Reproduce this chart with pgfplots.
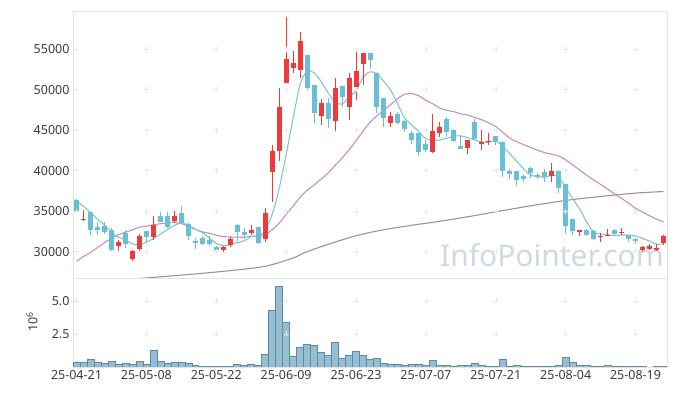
\documentclass[border=0pt]{standalone}
\usepackage{fontspec}
\setmainfont{Noto Sans}
\usepackage{pgfplots}
\pgfplotsset{compat=1.18}
\usepackage{pgfplotstable}

\definecolor{upc}{RGB}{238,58,58}
\definecolor{dnc}{RGB}{106,190,214}
\definecolor{ma5}{RGB}{128,201,190}
\definecolor{ma20}{RGB}{200,140,195}
\definecolor{ma60}{RGB}{150,150,150}
\definecolor{volf}{RGB}{150,190,208}
\definecolor{vold}{RGB}{90,140,170}
\definecolor{wm}{RGB}{203,218,228}
\definecolor{frame}{RGB}{228,228,228}
\definecolor{lab}{RGB}{60,60,60}

% up candles: x open high low close
\pgfplotstableread{
x o h l c
1 33850 35080 33820 34060
6 30650 31480 30040 31150
8 29140 30250 28800 30040
9 30370 32220 30120 31890
11 31810 34350 31400 33320
14 33820 34960 33530 34350
21 30160 30740 29900 30530
22 30780 31810 30590 31560
25 32300 33320 32090 32710
27 31560 35380 31150 34760
28 39890 43170 36190 42470
29 42470 50150 41240 47890
30 50840 58970 50770 53760
31 52690 54740 52070 53310
32 52380 57080 51380 55980
35 46740 48800 45630 48300
37 46160 51380 44930 50150
39 47890 52000 46250 51380
40 50280 54580 48710 52280
41 53140 54530 50560 54530
45 45840 47230 45430 46740
51 42350 46950 42150 44890
52 44700 45970 44120 45350
56 42760 43790 42060 43790
58 43260 45020 42560 43580
59 43500 44610 43170 43670
68 39280 40990 38650 40010
72 32380 32710 31970 32710
75 31810 32300 31150 31970
76 31890 32830 31890 32090
78 32300 32870 32050 32380
81 30160 30650 29900 30580
82 30370 30980 30200 30650
83 30250 30900 30100 30410
84 31070 32090 30860 31890
}\upT

% down candles: x open high low close
\pgfplotstableread{
x o h l c
0 36400 36500 34760 34840
2 34840 34900 32090 32620
3 33000 33600 32090 32620
4 33110 33600 32220 32380
5 32620 32950 30040 30250
7 32300 32620 30460 30980
10 32500 32600 31150 31810
12 34430 34890 33650 33650
13 34430 34890 32900 33000
15 34760 35660 33530 33530
16 33410 33500 31480 31890
17 31320 31690 30330 31070
18 31640 31970 30820 30980
19 31480 31890 30660 30980
20 30530 30740 29840 30160
23 33320 33400 31270 32380
24 32380 32910 31560 32060
26 33000 33050 30900 31070
33 54250 54300 50000 50220
34 50560 50600 45840 47150
36 48300 48920 45230 46410
38 50430 50500 47890 49110
42 54530 54530 52490 53630
43 52070 52100 47070 47890
44 48920 48950 45430 46530
46 46950 47200 45700 45920
47 46130 46200 44810 45140
48 44610 44900 43260 43790
49 44610 44650 41850 42350
50 43260 43790 42350 42560
53 46380 46580 44200 44820
54 45020 45100 43600 43700
55 43050 44400 42640 42640
57 46040 46340 43910 43910
60 44280 44300 43200 43580
61 43580 43600 39200 40010
62 39970 40180 38950 39600
63 39970 40000 38120 38860
64 39360 39600 38650 39020
65 40300 40500 39070 39690
66 39480 39700 39000 39200
67 39890 40180 38650 39200
69 40010 40050 37300 37840
70 38370 38400 32220 33200
71 34020 34050 32090 32500
73 32710 32750 32000 32090
74 32590 32700 31400 31600
77 32710 32800 31900 32220
79 32010 32050 31150 31600
80 31560 31700 31000 31350
}\dnT

\pgfplotstableread{
x v
0 36300
1 35600
2 34850
3 34000
4 33304
5 32386
6 31804
7 31476
8 30960
9 30862
10 31174
11 31608
12 32142
13 32734
14 33226
15 33570
16 33284
17 32768
18 32364
19 31690
20 31016
21 30744
22 30842
23 31122
24 31338
25 31848
26 31956
27 32596
28 34614
29 37780
30 41990
31 46438
32 50682
33 52232
34 52084
35 50992
36 49612
37 48446
38 48224
39 49070
40 49866
41 51490
42 52186
43 51942
44 50972
45 49864
46 48142
47 46444
48 45624
49 44788
50 43952
51 43746
52 43788
53 43994
54 44264
55 44280
56 44060
57 43772
58 43524
59 43518
60 43706
61 42950
62 42088
63 41144
64 40214
65 39436
66 39274
67 39194
68 39424
69 39188
70 37890
71 36550
72 35252
73 33668
74 32420
75 32174
76 32092
77 31994
78 32052
79 32052
80 31928
81 31626
82 31312
83 30918
84 30976
}\maA

\pgfplotstableread{
x v
0 28800
1 29400
2 29900
3 30500
4 31100
5 31650
6 32100
7 32400
8 32700
9 33000
10 33150
11 33300
12 33450
13 33550
14 33600
15 33450
16 33150
17 32750
18 32450
19 32270
20 32037
21 31860
22 31807
23 31795
24 31779
25 31902
26 31898
27 32087
28 32709
29 33509
30 34606
31 35606
32 36722
33 37583
34 38223
35 38962
36 39688
37 40642
38 41548
39 42568
40 43674
41 44874
42 45978
43 46753
44 47477
45 48178
46 48921
47 49440
48 49506
49 49229
50 48669
51 48248
52 47716
53 47446
54 47274
55 46991
56 46860
57 46548
58 46271
59 45886
60 45451
61 44725
62 44023
63 43572
64 43196
65 42844
66 42508
67 42211
68 42022
69 41796
70 41328
71 40709
72 40077
73 39440
74 38835
75 38302
76 37717
77 37132
78 36572
79 35969
80 35357
81 34886
82 34438
83 34016
84 33659
}\maB

\pgfplotstableread{
x v
4 26300
10 26760
17 27250
22 27660
26 28050
28 28400
31 29220
33 30000
36 30900
40 31970
44 32710
48 33260
52 33750
56 34310
60 34920
65 35660
70 36320
75 36810
80 37230
84 37420
}\maC

\pgfplotstableread{
x v
0 0.36
1 0.36
2 0.58
3 0.36
4 0.28
5 0.43
6 0.20
7 0.28
8 0.20
9 0.43
10 0.20
11 1.26
12 0.43
13 0.28
14 0.36
15 0.36
16 0.28
17 0.13
18 0.03
19 0.03
20 0.03
21 0.03
22 0.03
23 0.20
24 0.13
25 0.20
26 0.13
27 0.96
28 4.30
29 6.11
30 3.39
31 0.81
32 1.49
33 1.72
34 1.64
35 1.11
36 0.89
37 1.87
38 0.66
39 0.89
40 1.19
41 0.89
42 0.58
43 0.66
44 0.28
45 0.20
46 0.20
47 0.13
48 0.20
49 0.20
50 0.13
51 0.51
52 0.13
53 0.13
54 0.05
55 0.13
56 0.13
57 0.28
58 0.13
59 0.05
60 0.05
61 0.58
62 0.05
63 0.13
64 0.05
65 0.05
66 0.05
67 0.05
68 0.05
69 0.13
70 0.73
71 0.36
72 0.13
73 0.13
74 0.05
75 0.05
76 0.13
77 0.05
78 0.05
79 0.05
80 0.05
81 0.05
82 0.00
83 0.05
84 0.05
}\volT

\pgfplotsset{
  common/.style={
    scale only axis, width=594pt,
    xmin=-0.5, xmax=84.5,
    axis line style={draw=frame},
    major tick length=0pt,
    scaled y ticks=false, scaled x ticks=false,
    xtick={0,10,...,80},
    tick label style={font=\fontsize{12.5}{14}\selectfont, color=lab},
  },
  candle/.style={draw=none, mark=none, forget plot,
    error bars/.cd, y dir=both, y explicit, error mark=none,
    error bar style={draw=#1, line width=1pt}},
  body/.style={draw=none, mark=none, forget plot,
    error bars/.cd, y dir=both, y explicit, error mark=none,
    error bar style={draw=#1, line width=5pt}},
}

\begin{document}
\begin{tikzpicture}
\path[use as bounding box] (0pt,0pt) rectangle (677pt,396pt);
\node[text=wm, font=\fontsize{30}{30}\selectfont, anchor=center] at (552pt,141pt) {InfoPointer.com};

\begin{axis}[common,
  at={(73pt,118pt)}, anchor=south west, height=267pt,
  ymin=26750, ymax=59700,
  xticklabels={},
  ytick={30000,35000,40000,45000,50000,55000},
  yticklabels={30000,35000,40000,45000,50000,55000},
]
\pgfplotsinvokeforeach{0,10,...,80}{
  \addplot[only marks, mark=+, mark size=2.5pt, color=black!9, forget plot]
    coordinates {(#1,30000)(#1,35000)(#1,40000)(#1,45000)(#1,50000)(#1,55000)};
}
\addplot[ma60, line width=1.1pt, smooth] table[x=x,y=v] {\maC};
\addplot[ma20, line width=1.1pt, smooth] table[x=x,y=v] {\maB};
\addplot[ma5, line width=1.1pt, smooth] table[x=x,y=v] {\maA};
% wicks
\addplot[candle=upc]
  table[x=x, y=c, y error plus expr=\thisrow{h}-\thisrow{c}, y error minus expr=\thisrow{c}-\thisrow{l}] {\upT};
\addplot[candle=dnc]
  table[x=x, y=c, y error plus expr=\thisrow{h}-\thisrow{c}, y error minus expr=\thisrow{c}-\thisrow{l}] {\dnT};
% bodies
\addplot[body=upc]
  table[x=x, y=c, y error plus expr=0, y error minus expr=\thisrow{c}-\thisrow{o}] {\upT};
\addplot[body=dnc]
  table[x=x, y=c, y error plus expr=\thisrow{o}-\thisrow{c}, y error minus expr=0] {\dnT};
\end{axis}

\begin{axis}[common,
  at={(73pt,29pt)}, anchor=south west, height=89pt,
  ymin=0, ymax=6.74,
  xticklabels={25-04-21,25-05-08,25-05-22,25-06-09,25-06-23,25-07-07,25-07-21,25-08-04,25-08-19},
  ytick={2.5,5}, yticklabels={2.5,5.0},
]
\pgfplotsinvokeforeach{0,10,...,80}{
  \addplot[only marks, mark=+, mark size=2.5pt, color=black!9, forget plot]
    coordinates {(#1,2.5)(#1,5)};
}
\addplot[ybar, bar width=1, bar shift=0pt, fill=volf, draw=vold, line width=0.6pt] table[x=x,y=v] {\volT};
\end{axis}
\node[rotate=90, text=lab, font=\fontsize{12.5}{14}\selectfont] at (32pt,74pt) {10\textsuperscript{6}};
\end{tikzpicture}
\end{document}
